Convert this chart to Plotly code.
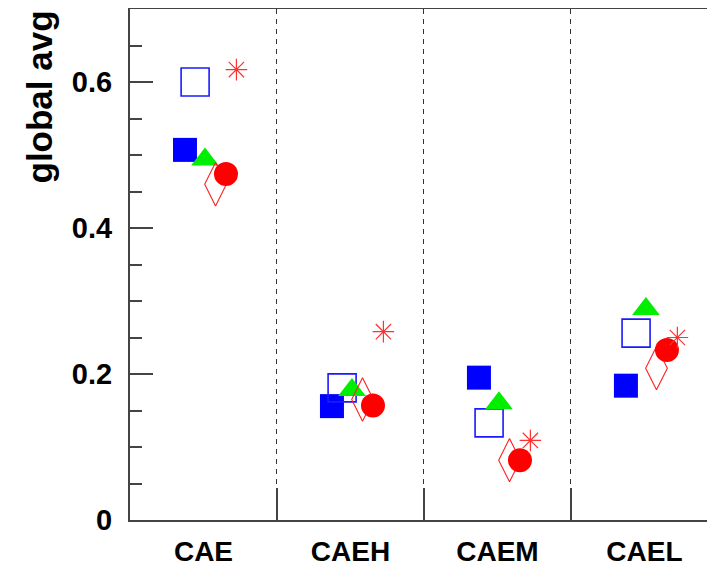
import plotly.graph_objects as go

categories = ["CAE", "CAEH", "CAEM", "CAEL"]

filled_square = [0.507, 0.156, 0.195, 0.184]
open_square = [0.600, 0.181, 0.133, 0.256]
triangle = [0.494, 0.178, 0.160, 0.289]
open_diamond = [0.460, 0.165, 0.082, 0.208]
filled_circle = [0.474, 0.157, 0.082, 0.233]
asterisk = [0.617, 0.258, 0.109, 0.250]

y_tick_vals = [0, 0.2, 0.4, 0.6]
y_tick_text = ["0", "0.2", "0.4", "0.6"]

series = [
    (filled_square, -0.126, dict(symbol="square", size=24, color="#0000ff", line=dict(width=0))),
    (open_square, -0.057, dict(symbol="square-open", size=28, color="#1a1aff", line=dict(width=1.6, color="#1a1aff"))),
    (triangle, 0.010, dict(symbol="triangle-up", size=24, color="#00ee00", line=dict(width=0))),
    (open_diamond, 0.082, dict(symbol="diamond-tall-open", size=31, color="#ff2020", line=dict(width=1.1, color="#ff2020"))),
    (filled_circle, 0.153, dict(symbol="circle", size=24, color="#ff0000", line=dict(width=0))),
    (asterisk, 0.224, dict(symbol="asterisk-open", size=18, color="#ff3030", line=dict(width=1.2, color="#ff3030"))),
]

fig = go.Figure()
for vals, off, mk in series:
    fig.add_trace(go.Scatter(
        x=[i + off for i in range(len(categories))],
        y=vals,
        mode="markers",
        marker=mk,
        showlegend=False,
        cliponaxis=False,
    ))

axis_col = "#444444"
fnt = "Liberation Sans, Arial, sans-serif"
# page body adds an 8px offset, so the figure is 8px smaller than the window
fig.update_layout(
    width=707, height=561,
    margin=dict(l=122, r=0, t=1, b=49),
    plot_bgcolor="white", paper_bgcolor="white",
    font=dict(family=fnt, color="black"),
    xaxis=dict(
        range=[-0.5, 3.48],
        tickvals=list(range(len(categories))),
        ticktext=categories,
        ticks="",
        automargin=False,
        showgrid=False,
        zeroline=False,
        showline=True, linecolor=axis_col, linewidth=2,
        mirror=True,
        tickfont=dict(size=28, weight="bold", family=fnt),
        ticklabelstandoff=5,
        minor=dict(
            tickvals=[i + 0.5 for i in range(len(categories) - 1)],
            ticks="inside", ticklen=32, tickcolor=axis_col, tickwidth=1.5,
            showgrid=True, gridcolor="#333333", gridwidth=1.2, griddash="5px,5px",
        ),
    ),
    yaxis=dict(
        range=[0, 0.7],
        tickvals=y_tick_vals,
        ticktext=y_tick_text,
        automargin=False,
        ticks="inside", ticklen=23, tickwidth=1.5, tickcolor=axis_col,
        showgrid=False, zeroline=False,
        showline=True, linecolor=axis_col, linewidth=2,
        tickfont=dict(size=29, weight="bold", family=fnt),
        ticklabelstandoff=10,
        minor=dict(dtick=0.05, ticks="inside", ticklen=12, tickwidth=1.5, tickcolor=axis_col),
    ),
)

fig.add_annotation(
    text="global avg", textangle=-90,
    xref="paper", yref="paper",
    x=(31 - 122) / 585, y=1,
    xanchor="center", yanchor="top",
    showarrow=False,
    font=dict(size=35, weight="bold", family=fnt, color="black"),
)

fig.write_html("out.html")
